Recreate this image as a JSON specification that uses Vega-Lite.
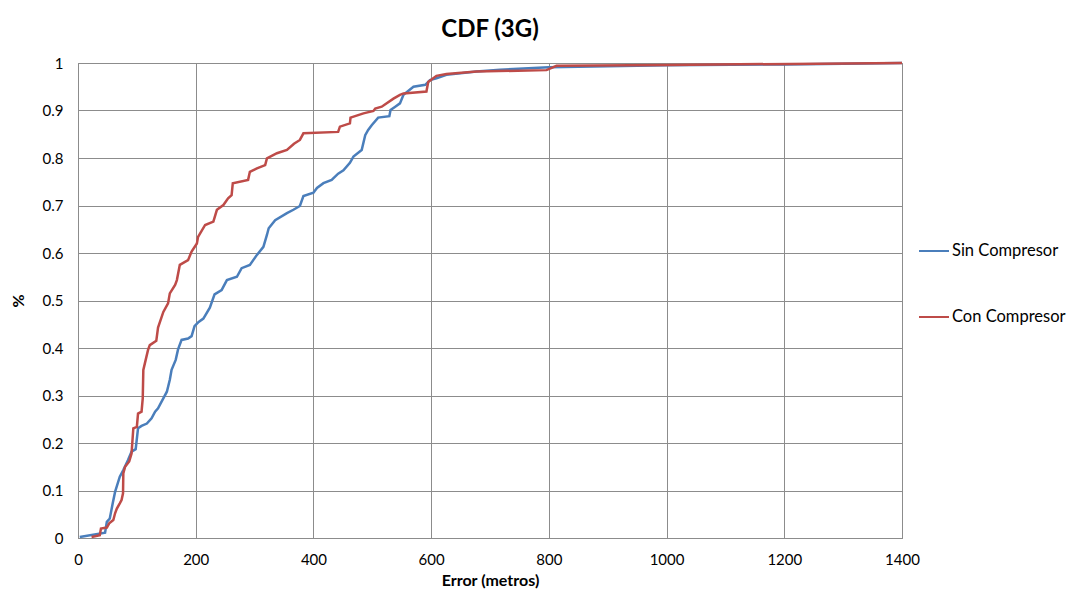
{
  "$schema": "https://vega.github.io/schema/vega-lite/v6.json",
  "width": 824,
  "height": 475,
  "autosize": "none",
  "padding": {"left": 78, "top": 63, "right": 165, "bottom": 55},
  "background": "white",
  "title": {"text": "CDF (3G)", "font": "Lato", "fontSize": 24, "fontWeight": "bold", "color": "#000000", "anchor": "middle", "offset": 14},
  "config": {
    "view": {"stroke": "#8c8c8c", "strokeWidth": 1},
    "axis": {"labelFont": "Lato", "labelFontSize": 15, "labelColor": "#000000", "labelFlush": false, "titleFont": "Lato", "titleFontSize": 16, "titleFontWeight": "bold", "titleColor": "#000000", "gridColor": "#8c8c8c", "gridOpacity": 1, "domainColor": "#8c8c8c", "ticks": false},
    "legend": {"labelFont": "Lato", "labelFontSize": 16.5, "labelColor": "#000000"}
  },
  "data": {"values": [
    {"serie": "Sin Compresor", "x": 3, "p": 0.002},
    {"serie": "Sin Compresor", "x": 46, "p": 0.011},
    {"serie": "Sin Compresor", "x": 49, "p": 0.034},
    {"serie": "Sin Compresor", "x": 54, "p": 0.041},
    {"serie": "Sin Compresor", "x": 59, "p": 0.073},
    {"serie": "Sin Compresor", "x": 63, "p": 0.097},
    {"serie": "Sin Compresor", "x": 71, "p": 0.129},
    {"serie": "Sin Compresor", "x": 77, "p": 0.143},
    {"serie": "Sin Compresor", "x": 85, "p": 0.164},
    {"serie": "Sin Compresor", "x": 91, "p": 0.182},
    {"serie": "Sin Compresor", "x": 98, "p": 0.187},
    {"serie": "Sin Compresor", "x": 102, "p": 0.231},
    {"serie": "Sin Compresor", "x": 108, "p": 0.236},
    {"serie": "Sin Compresor", "x": 117, "p": 0.241},
    {"serie": "Sin Compresor", "x": 125, "p": 0.252},
    {"serie": "Sin Compresor", "x": 131, "p": 0.266},
    {"serie": "Sin Compresor", "x": 136, "p": 0.273},
    {"serie": "Sin Compresor", "x": 142, "p": 0.287},
    {"serie": "Sin Compresor", "x": 151, "p": 0.308},
    {"serie": "Sin Compresor", "x": 156, "p": 0.333},
    {"serie": "Sin Compresor", "x": 159, "p": 0.354},
    {"serie": "Sin Compresor", "x": 166, "p": 0.375},
    {"serie": "Sin Compresor", "x": 170, "p": 0.397},
    {"serie": "Sin Compresor", "x": 176, "p": 0.417},
    {"serie": "Sin Compresor", "x": 187, "p": 0.420},
    {"serie": "Sin Compresor", "x": 193, "p": 0.425},
    {"serie": "Sin Compresor", "x": 198, "p": 0.446},
    {"serie": "Sin Compresor", "x": 205, "p": 0.455},
    {"serie": "Sin Compresor", "x": 213, "p": 0.462},
    {"serie": "Sin Compresor", "x": 224, "p": 0.485},
    {"serie": "Sin Compresor", "x": 232, "p": 0.513},
    {"serie": "Sin Compresor", "x": 244, "p": 0.522},
    {"serie": "Sin Compresor", "x": 253, "p": 0.543},
    {"serie": "Sin Compresor", "x": 270, "p": 0.550},
    {"serie": "Sin Compresor", "x": 278, "p": 0.568},
    {"serie": "Sin Compresor", "x": 292, "p": 0.575},
    {"serie": "Sin Compresor", "x": 304, "p": 0.596},
    {"serie": "Sin Compresor", "x": 315, "p": 0.613},
    {"serie": "Sin Compresor", "x": 321, "p": 0.638},
    {"serie": "Sin Compresor", "x": 324, "p": 0.652},
    {"serie": "Sin Compresor", "x": 335, "p": 0.669},
    {"serie": "Sin Compresor", "x": 355, "p": 0.684},
    {"serie": "Sin Compresor", "x": 366, "p": 0.691},
    {"serie": "Sin Compresor", "x": 377, "p": 0.699},
    {"serie": "Sin Compresor", "x": 383, "p": 0.720},
    {"serie": "Sin Compresor", "x": 400, "p": 0.727},
    {"serie": "Sin Compresor", "x": 406, "p": 0.737},
    {"serie": "Sin Compresor", "x": 417, "p": 0.747},
    {"serie": "Sin Compresor", "x": 431, "p": 0.754},
    {"serie": "Sin Compresor", "x": 442, "p": 0.767},
    {"serie": "Sin Compresor", "x": 451, "p": 0.774},
    {"serie": "Sin Compresor", "x": 462, "p": 0.790},
    {"serie": "Sin Compresor", "x": 468, "p": 0.803},
    {"serie": "Sin Compresor", "x": 482, "p": 0.817},
    {"serie": "Sin Compresor", "x": 488, "p": 0.848},
    {"serie": "Sin Compresor", "x": 493, "p": 0.859},
    {"serie": "Sin Compresor", "x": 499, "p": 0.869},
    {"serie": "Sin Compresor", "x": 510, "p": 0.885},
    {"serie": "Sin Compresor", "x": 529, "p": 0.888},
    {"serie": "Sin Compresor", "x": 531, "p": 0.901},
    {"serie": "Sin Compresor", "x": 539, "p": 0.908},
    {"serie": "Sin Compresor", "x": 547, "p": 0.915},
    {"serie": "Sin Compresor", "x": 553, "p": 0.933},
    {"serie": "Sin Compresor", "x": 570, "p": 0.950},
    {"serie": "Sin Compresor", "x": 590, "p": 0.954},
    {"serie": "Sin Compresor", "x": 598, "p": 0.964},
    {"serie": "Sin Compresor", "x": 609, "p": 0.968},
    {"serie": "Sin Compresor", "x": 626, "p": 0.975},
    {"serie": "Sin Compresor", "x": 677, "p": 0.982},
    {"serie": "Sin Compresor", "x": 717, "p": 0.986},
    {"serie": "Sin Compresor", "x": 800, "p": 0.991},
    {"serie": "Sin Compresor", "x": 1000, "p": 0.995},
    {"serie": "Sin Compresor", "x": 1200, "p": 0.997},
    {"serie": "Sin Compresor", "x": 1400, "p": 1.0},
    {"serie": "Con Compresor", "x": 23, "p": 0.002},
    {"serie": "Con Compresor", "x": 37, "p": 0.006},
    {"serie": "Con Compresor", "x": 39, "p": 0.020},
    {"serie": "Con Compresor", "x": 49, "p": 0.022},
    {"serie": "Con Compresor", "x": 53, "p": 0.031},
    {"serie": "Con Compresor", "x": 60, "p": 0.038},
    {"serie": "Con Compresor", "x": 63, "p": 0.052},
    {"serie": "Con Compresor", "x": 66, "p": 0.062},
    {"serie": "Con Compresor", "x": 71, "p": 0.073},
    {"serie": "Con Compresor", "x": 74, "p": 0.080},
    {"serie": "Con Compresor", "x": 76.5, "p": 0.094},
    {"serie": "Con Compresor", "x": 77, "p": 0.136},
    {"serie": "Con Compresor", "x": 80, "p": 0.150},
    {"serie": "Con Compresor", "x": 87, "p": 0.161},
    {"serie": "Con Compresor", "x": 91, "p": 0.178},
    {"serie": "Con Compresor", "x": 94, "p": 0.231},
    {"serie": "Con Compresor", "x": 100, "p": 0.234},
    {"serie": "Con Compresor", "x": 102, "p": 0.262},
    {"serie": "Con Compresor", "x": 108, "p": 0.266},
    {"serie": "Con Compresor", "x": 110, "p": 0.294},
    {"serie": "Con Compresor", "x": 111, "p": 0.354},
    {"serie": "Con Compresor", "x": 115, "p": 0.375},
    {"serie": "Con Compresor", "x": 119, "p": 0.396},
    {"serie": "Con Compresor", "x": 122, "p": 0.406},
    {"serie": "Con Compresor", "x": 133, "p": 0.415},
    {"serie": "Con Compresor", "x": 136, "p": 0.443},
    {"serie": "Con Compresor", "x": 145, "p": 0.476},
    {"serie": "Con Compresor", "x": 153, "p": 0.494},
    {"serie": "Con Compresor", "x": 156, "p": 0.515},
    {"serie": "Con Compresor", "x": 165, "p": 0.533},
    {"serie": "Con Compresor", "x": 168, "p": 0.543},
    {"serie": "Con Compresor", "x": 173, "p": 0.575},
    {"serie": "Con Compresor", "x": 187, "p": 0.585},
    {"serie": "Con Compresor", "x": 193, "p": 0.603},
    {"serie": "Con Compresor", "x": 202, "p": 0.620},
    {"serie": "Con Compresor", "x": 204, "p": 0.634},
    {"serie": "Con Compresor", "x": 216, "p": 0.659},
    {"serie": "Con Compresor", "x": 230, "p": 0.666},
    {"serie": "Con Compresor", "x": 236, "p": 0.691},
    {"serie": "Con Compresor", "x": 247, "p": 0.701},
    {"serie": "Con Compresor", "x": 255, "p": 0.715},
    {"serie": "Con Compresor", "x": 261, "p": 0.722},
    {"serie": "Con Compresor", "x": 263, "p": 0.747},
    {"serie": "Con Compresor", "x": 289, "p": 0.754},
    {"serie": "Con Compresor", "x": 292, "p": 0.771},
    {"serie": "Con Compresor", "x": 304, "p": 0.778},
    {"serie": "Con Compresor", "x": 318, "p": 0.785},
    {"serie": "Con Compresor", "x": 321, "p": 0.799},
    {"serie": "Con Compresor", "x": 338, "p": 0.810},
    {"serie": "Con Compresor", "x": 355, "p": 0.817},
    {"serie": "Con Compresor", "x": 367, "p": 0.830},
    {"serie": "Con Compresor", "x": 377, "p": 0.838},
    {"serie": "Con Compresor", "x": 383, "p": 0.852},
    {"serie": "Con Compresor", "x": 442, "p": 0.855},
    {"serie": "Con Compresor", "x": 445, "p": 0.866},
    {"serie": "Con Compresor", "x": 462, "p": 0.873},
    {"serie": "Con Compresor", "x": 463, "p": 0.885},
    {"serie": "Con Compresor", "x": 485, "p": 0.894},
    {"serie": "Con Compresor", "x": 502, "p": 0.899},
    {"serie": "Con Compresor", "x": 505, "p": 0.904},
    {"serie": "Con Compresor", "x": 516, "p": 0.908},
    {"serie": "Con Compresor", "x": 536, "p": 0.925},
    {"serie": "Con Compresor", "x": 547, "p": 0.933},
    {"serie": "Con Compresor", "x": 553, "p": 0.936},
    {"serie": "Con Compresor", "x": 592, "p": 0.940},
    {"serie": "Con Compresor", "x": 595, "p": 0.960},
    {"serie": "Con Compresor", "x": 609, "p": 0.973},
    {"serie": "Con Compresor", "x": 626, "p": 0.977},
    {"serie": "Con Compresor", "x": 677, "p": 0.982},
    {"serie": "Con Compresor", "x": 796, "p": 0.985},
    {"serie": "Con Compresor", "x": 813, "p": 0.994},
    {"serie": "Con Compresor", "x": 1000, "p": 0.996},
    {"serie": "Con Compresor", "x": 1400, "p": 1.0}
  ]},
  "encoding": {
    "x": {"field": "x", "type": "quantitative", "scale": {"domain": [0, 1400], "nice": false},
      "axis": {"title": "Error (metros)", "values": [0, 200, 400, 600, 800, 1000, 1200, 1400], "format": "d", "grid": true, "labelPadding": 14, "titlePadding": 5}},
    "y": {"field": "p", "type": "quantitative", "scale": {"domain": [0, 1], "nice": false},
      "axis": {"title": "%", "values": [0, 0.1, 0.2, 0.3, 0.4, 0.5, 0.6, 0.7, 0.8, 0.9, 1], "format": ".1~f", "grid": true, "labelPadding": 15, "titlePadding": 16}},
    "color": {"field": "serie", "type": "nominal",
      "scale": {"domain": ["Sin Compresor", "Con Compresor"], "range": ["#4a7ebb", "#be4b48"]},
      "legend": {"title": null, "orient": "none", "legendX": 840, "legendY": 172, "symbolType": "stroke", "symbolSize": 900, "symbolStrokeWidth": 2, "labelOffset": 2, "rowPadding": 41}}
  },
  "layer": [
    {"transform": [{"filter": "datum.serie == 'Sin Compresor'"}], "mark": {"type": "line", "strokeWidth": 2.5, "clip": false}},
    {"transform": [{"filter": "datum.serie == 'Con Compresor'"}], "mark": {"type": "line", "strokeWidth": 2.5, "clip": false}}
  ]
}
